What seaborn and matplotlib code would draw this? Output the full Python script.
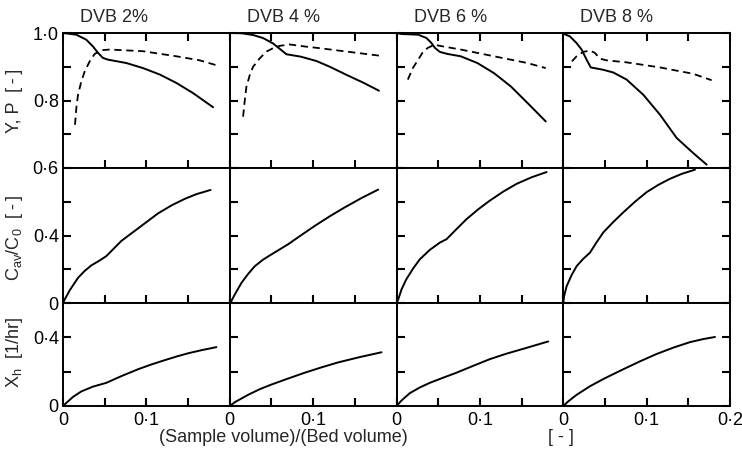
import matplotlib
matplotlib.use("Agg")
import matplotlib.pyplot as plt
import seaborn as sns

# ---------------- data ----------------
titles = ["DVB 2%", "DVB 4 %", "DVB 6 %", "DVB 8 %"]

# top row: Y (solid) and P (dashed)
y_x_2 = [0, 0.016, 0.028, 0.036, 0.042, 0.048, 0.054, 0.076, 0.096, 0.116, 0.136, 0.156, 0.180]
y_v_2 = [1.0, 0.995, 0.980, 0.960, 0.941, 0.926, 0.921, 0.911, 0.896, 0.877, 0.852, 0.822, 0.780]
p_x_2 = [0.0144, 0.016, 0.018, 0.022, 0.026, 0.032, 0.038, 0.046, 0.056, 0.096, 0.136, 0.164, 0.186]
p_v_2 = [0.728, 0.778, 0.817, 0.857, 0.886, 0.916, 0.938, 0.949, 0.951, 0.946, 0.931, 0.919, 0.903]

y_x_4 = [0.002, 0.015, 0.028, 0.040, 0.052, 0.060, 0.068, 0.085, 0.104, 0.120, 0.140, 0.160, 0.179]
y_v_4 = [1.0, 0.999, 0.994, 0.985, 0.969, 0.953, 0.937, 0.930, 0.917, 0.900, 0.876, 0.853, 0.829]
p_x_4 = [0.016, 0.018, 0.020, 0.024, 0.028, 0.036, 0.044, 0.052, 0.060, 0.072, 0.090, 0.108, 0.140, 0.179]
p_v_4 = [0.752, 0.80, 0.841, 0.875, 0.900, 0.925, 0.945, 0.955, 0.962, 0.966, 0.960, 0.955, 0.945, 0.933]

y_x_6 = [0.0, 0.006, 0.026, 0.036, 0.042, 0.046, 0.052, 0.061, 0.077, 0.097, 0.117, 0.137, 0.157, 0.179]
y_v_6 = [1.0, 0.997, 0.995, 0.985, 0.970, 0.956, 0.944, 0.938, 0.931, 0.911, 0.881, 0.842, 0.793, 0.738]
p_x_6 = [0.0136, 0.0196, 0.026, 0.031, 0.0375, 0.0455, 0.054, 0.077, 0.117, 0.157, 0.179]
p_v_6 = [0.862, 0.896, 0.921, 0.941, 0.956, 0.965, 0.961, 0.951, 0.931, 0.911, 0.896]

y_x_8 = [0.0, 0.008, 0.016, 0.022, 0.028, 0.033, 0.048, 0.060, 0.076, 0.096, 0.116, 0.136, 0.156, 0.172]
y_v_8 = [0.998, 0.990, 0.970, 0.951, 0.921, 0.898, 0.891, 0.883, 0.862, 0.817, 0.758, 0.689, 0.644, 0.610]
p_x_8 = [0.0104, 0.016, 0.024, 0.032, 0.038, 0.044, 0.052, 0.076, 0.116, 0.156, 0.178]
p_v_8 = [0.916, 0.931, 0.944, 0.948, 0.941, 0.924, 0.919, 0.913, 0.898, 0.879, 0.860]

# middle row: Cav/C0
c_x_2 = [0, 0.002, 0.008, 0.018, 0.026, 0.034, 0.044, 0.052, 0.060, 0.070, 0.090, 0.114, 0.130, 0.146, 0.160, 0.177]
c_v_2 = [0, 0.02, 0.075, 0.149, 0.190, 0.223, 0.252, 0.278, 0.318, 0.368, 0.442, 0.531, 0.578, 0.617, 0.645, 0.670]
c_x_4 = [0, 0.002, 0.006, 0.014, 0.022, 0.030, 0.040, 0.050, 0.070, 0.086, 0.102, 0.120, 0.138, 0.158, 0.178]
c_v_4 = [0, 0.012, 0.05, 0.119, 0.172, 0.218, 0.257, 0.288, 0.348, 0.403, 0.457, 0.514, 0.567, 0.622, 0.672]
c_x_6 = [0, 0.002, 0.006, 0.0116, 0.020, 0.028, 0.040, 0.052, 0.060, 0.072, 0.084, 0.098, 0.112, 0.128, 0.144, 0.162, 0.180]
c_v_6 = [0, 0.02, 0.08, 0.139, 0.205, 0.259, 0.315, 0.358, 0.378, 0.438, 0.497, 0.555, 0.607, 0.660, 0.706, 0.745, 0.776]
c_x_8 = [0, 0.001, 0.004, 0.010, 0.016, 0.024, 0.032, 0.040, 0.048, 0.060, 0.072, 0.086, 0.100, 0.114, 0.128, 0.142, 0.158]
c_v_8 = [0, 0.04, 0.099, 0.165, 0.218, 0.262, 0.298, 0.360, 0.418, 0.480, 0.537, 0.600, 0.657, 0.700, 0.736, 0.765, 0.790]

# bottom row: Xh
x_x_2 = [0, 0.004, 0.012, 0.022, 0.036, 0.052, 0.070, 0.090, 0.106, 0.122, 0.136, 0.150, 0.166, 0.184]
x_v_2 = [0, 0.018, 0.053, 0.085, 0.113, 0.135, 0.174, 0.214, 0.242, 0.267, 0.288, 0.307, 0.325, 0.343]
x_x_4 = [0, 0.006, 0.022, 0.036, 0.050, 0.070, 0.090, 0.110, 0.130, 0.156, 0.182]
x_v_4 = [0, 0.022, 0.065, 0.098, 0.125, 0.160, 0.194, 0.225, 0.254, 0.285, 0.313]
x_x_6 = [0, 0.006, 0.016, 0.028, 0.040, 0.056, 0.072, 0.092, 0.112, 0.132, 0.152, 0.168, 0.182]
x_v_6 = [0, 0.032, 0.075, 0.108, 0.135, 0.165, 0.194, 0.234, 0.273, 0.305, 0.333, 0.356, 0.376]
x_x_8 = [0, 0.006, 0.016, 0.032, 0.050, 0.072, 0.092, 0.112, 0.132, 0.152, 0.168, 0.182]
x_v_8 = [0, 0.027, 0.065, 0.115, 0.162, 0.214, 0.260, 0.303, 0.340, 0.372, 0.390, 0.402]

top_solid = [(y_x_2, y_v_2), (y_x_4, y_v_4), (y_x_6, y_v_6), (y_x_8, y_v_8)]
top_dash = [(p_x_2, p_v_2), (p_x_4, p_v_4), (p_x_6, p_v_6), (p_x_8, p_v_8)]
mid = [(c_x_2, c_v_2), (c_x_4, c_v_4), (c_x_6, c_v_6), (c_x_8, c_v_8)]
bot = [(x_x_2, x_v_2), (x_x_4, x_v_4), (x_x_6, x_v_6), (x_x_8, x_v_8)]

xticks = [0, 0.05, 0.1, 0.15, 0.2]
row_yticks = [[0.6, 0.7, 0.8, 0.9, 1.0], [0, 0.2, 0.4, 0.6, 0.8], [0, 0.2, 0.4, 0.6]]
row_ylabels = [["0·6", "", "0·8", "", "1·0"], ["0", "", "0·4", "", ""], ["0", "", "0·4", ""]]
row_ylims = [(0.6, 1.0), (0, 0.8), (0, 0.6)]
UNIT = "[\u2009-\u2009]"
row_titles = ["Y, P  " + UNIT,
              r"$\mathregular{C_{av}/C_0}$  " + UNIT,
              r"$\mathregular{X_h}$  [1/hr]"]

# ---------------- style ----------------
sns.set_style("ticks")
plt.rcParams["font.family"] = ["Liberation Sans", "DejaVu Sans"]
plt.rcParams["mathtext.fontset"] = "custom"
plt.rcParams["mathtext.rm"] = "Liberation Sans"
plt.rcParams["mathtext.it"] = "Liberation Sans"
plt.rcParams["axes.linewidth"] = 1.4
plt.rcParams["axes.edgecolor"] = "black"
plt.rcParams["axes.axisbelow"] = False
for a in ("xtick", "ytick"):
    plt.rcParams[f"{a}.direction"] = "in"
    plt.rcParams[f"{a}.major.size"] = 6
    plt.rcParams[f"{a}.major.width"] = 1.5
    plt.rcParams[f"{a}.color"] = "black"
    plt.rcParams[f"{a}.labelcolor"] = "black"
    plt.rcParams[f"{a}.labelsize"] = 13

W, H = 742, 454
fig = plt.figure(figsize=(W / 100, H / 100), dpi=100)
gs = fig.add_gridspec(3, 4, left=63 / W, right=730 / W, top=1 - 33 / H, bottom=1 - 406 / H,
                      wspace=0, hspace=0, height_ratios=[135, 135, 103])

LW = 1.4
FS = 13
axes = {}
for r in range(3):
    for c in range(4):
        ax = fig.add_subplot(gs[r, c])
        axes[(r, c)] = ax
        if r == 0:
            xs, ys = top_solid[c]
            sns.lineplot(x=xs, y=ys, ax=ax, color="black", lw=LW, sort=False, estimator=None)
            xs, ys = top_dash[c]
            sns.lineplot(x=xs, y=ys, ax=ax, color="black", lw=1.3, sort=False, estimator=None,
                         linestyle=(0, (4, 2.6)))
        elif r == 1:
            xs, ys = mid[c]
            sns.lineplot(x=xs, y=ys, ax=ax, color="black", lw=LW, sort=False, estimator=None)
        else:
            xs, ys = bot[c]
            sns.lineplot(x=xs, y=ys, ax=ax, color="black", lw=LW, sort=False, estimator=None)
        ax.set_xlim(0, 0.2)
        ax.set_ylim(*row_ylims[r])
        ax.set_xlabel("")
        ax.set_ylabel("")

# axis decoration in a second pass, once every panel exists
for (r, c), ax in axes.items():
    ax.set_xticks(xticks)
    ax.set_yticks(row_yticks[r])
    if r == 2:
        ax.set_xticklabels(["0", "", "0·1", "", "0·2" if c == 3 else ""])
    else:
        ax.set_xticklabels([""] * len(xticks))
    if c == 0:
        ax.set_yticklabels(row_ylabels[r])
    else:
        ax.set_yticklabels([""] * len(row_yticks[r]))
    ax.tick_params(axis="x", which="major", direction="in", length=6, width=1.5, color="black",
                   top=(r == 0), bottom=True, pad=4, labelsize=FS)
    ax.tick_params(axis="y", which="major", direction="in", length=6, width=1.5, color="black",
                   left=True, right=(c == 3), pad=3, labelsize=FS)
    ax.xaxis.set_zorder(5)
    ax.yaxis.set_zorder(5)
    for s in ax.spines.values():
        s.set_visible(True)
        s.set_linewidth(1.4)
        s.set_color("black")

# titles
col_left = [63, 230, 397, 563]
for c in range(4):
    fig.text((col_left[c] + 17) / W, 1 - 18 / H, titles[c], ha="left", va="center", fontsize=13)

# row labels
row_centers = [101, 238, 352]
for r in range(3):
    fig.text(15 / W, 1 - row_centers[r] / H, row_titles[r], rotation=90, ha="center", va="center",
             fontsize=FS)

fig.text(283 / W, 1 - 438 / H, "(Sample volume)/(Bed volume)", ha="center", va="center", fontsize=FS)
fig.text(561 / W, 1 - 438 / H, "[ - ]", ha="center", va="center", fontsize=FS)

fig.savefig("out.png", dpi=100, facecolor="white")
